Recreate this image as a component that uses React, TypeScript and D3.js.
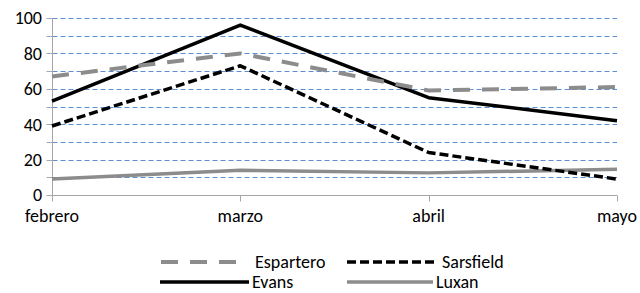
import React from "react";
import * as d3 from "d3";

const months = ["febrero", "marzo", "abril", "mayo"];
const espartero = [67, 80, 59, 61];
const sarsfield = [39, 73, 24, 9];
const evans = [53, 96, 55, 42];
const luxan = [9, 14, 12.5, 14.5];
const yTicks = [0, 20, 40, 60, 80, 100];
const gridTicks = d3.range(10, 101, 10);

const series = [
  { name: "Espartero", values: espartero, color: "#8c8c8c", width: 4, dash: "17,12" },
  { name: "Sarsfield", values: sarsfield, color: "#000000", width: 3.5, dash: "9,4" },
  { name: "Evans", values: evans, color: "#000000", width: 3.5, dash: "" },
  { name: "Luxan", values: luxan, color: "#8c8c8c", width: 3.5, dash: "" },
];

// legend placement: [lineStart, lineEnd, textX, rowY]
const legendPos = [
  [161, 238, 255, 262],
  [347, 438, 442, 262],
  [160, 249, 252, 282],
  [347, 433, 436, 282],
];

export default function App() {
  const width = 640;
  const height = 293;
  const margin = { left: 52, right: 23, top: 18, bottom: 98 };

  const x = d3.scalePoint<string>()
    .domain(months)
    .range([margin.left, width - margin.right]);
  const y = d3.scaleLinear()
    .domain([0, 100])
    .range([height - margin.bottom, margin.top]);

  const line = d3.line<number>()
    .x((_, i) => x(months[i]) as number)
    .y(d => y(d));

  // snap hairlines to the pixel grid so they stay crisp
  const crisp = (v: number) => Math.round(v) + 0.5;

  const font = "Carlito, Lato, 'Liberation Sans', sans-serif";
  const fs = 18;
  const axisX = crisp(margin.left);
  const axisY = crisp(y(0));

  return (
    <div style={{ position: "absolute", left: 0, top: 0 }}>
      <svg width={width} height={height} style={{ display: "block", background: "#fff" }} fontFamily={font}>
        {/* gridlines */}
        {gridTicks.map(t => (
          <line key={"g" + t} x1={axisX} x2={width - margin.right} y1={crisp(y(t))} y2={crisp(y(t))}
            stroke="#5b8fd8" strokeWidth={1} strokeDasharray="5,3" />
        ))}
        {/* y axis */}
        <line x1={axisX} x2={axisX} y1={axisY} y2={crisp(y(100))} stroke="#a6a6a6" strokeWidth={1} />
        {gridTicks.concat([0]).map(t => (
          <line key={"t" + t} x1={axisX - 6} x2={axisX} y1={crisp(y(t))} y2={crisp(y(t))} stroke="#a6a6a6" strokeWidth={1} />
        ))}
        {yTicks.map(t => (
          <text key={"yl" + t} x={42} y={y(t)} dy="0.36em" textAnchor="end" fontSize={fs} fill="#000">{t}</text>
        ))}
        {/* x axis */}
        <line x1={axisX} x2={width - margin.right} y1={axisY} y2={axisY} stroke="#a6a6a6" strokeWidth={1} />
        {months.map(m => (
          <line key={"xt" + m} x1={crisp(x(m) as number)} x2={crisp(x(m) as number)} y1={axisY} y2={axisY + 6}
            stroke="#a6a6a6" strokeWidth={1} />
        ))}
        {months.map(m => (
          <text key={"xl" + m} x={x(m)} y={y(0) + 27} textAnchor="middle" fontSize={fs} fill="#000">{m}</text>
        ))}
        {/* series */}
        {series.slice().reverse().map(s => (
          <path key={s.name} d={line(s.values) || ""} fill="none" stroke={s.color} strokeWidth={s.width}
            strokeDasharray={s.dash || undefined} strokeLinejoin="round" />
        ))}
        {/* legend */}
        {series.map((s, i) => {
          const [x1, x2, tx, ly] = legendPos[i];
          return (
            <g key={"lg" + s.name}>
              <line x1={x1} x2={x2} y1={ly} y2={ly} stroke={s.color} strokeWidth={s.width}
                strokeDasharray={s.dash || undefined} />
              <text x={tx} y={ly} dy="0.36em" fontSize={fs} fill="#000">{s.name}</text>
            </g>
          );
        })}
      </svg>
    </div>
  );
}
